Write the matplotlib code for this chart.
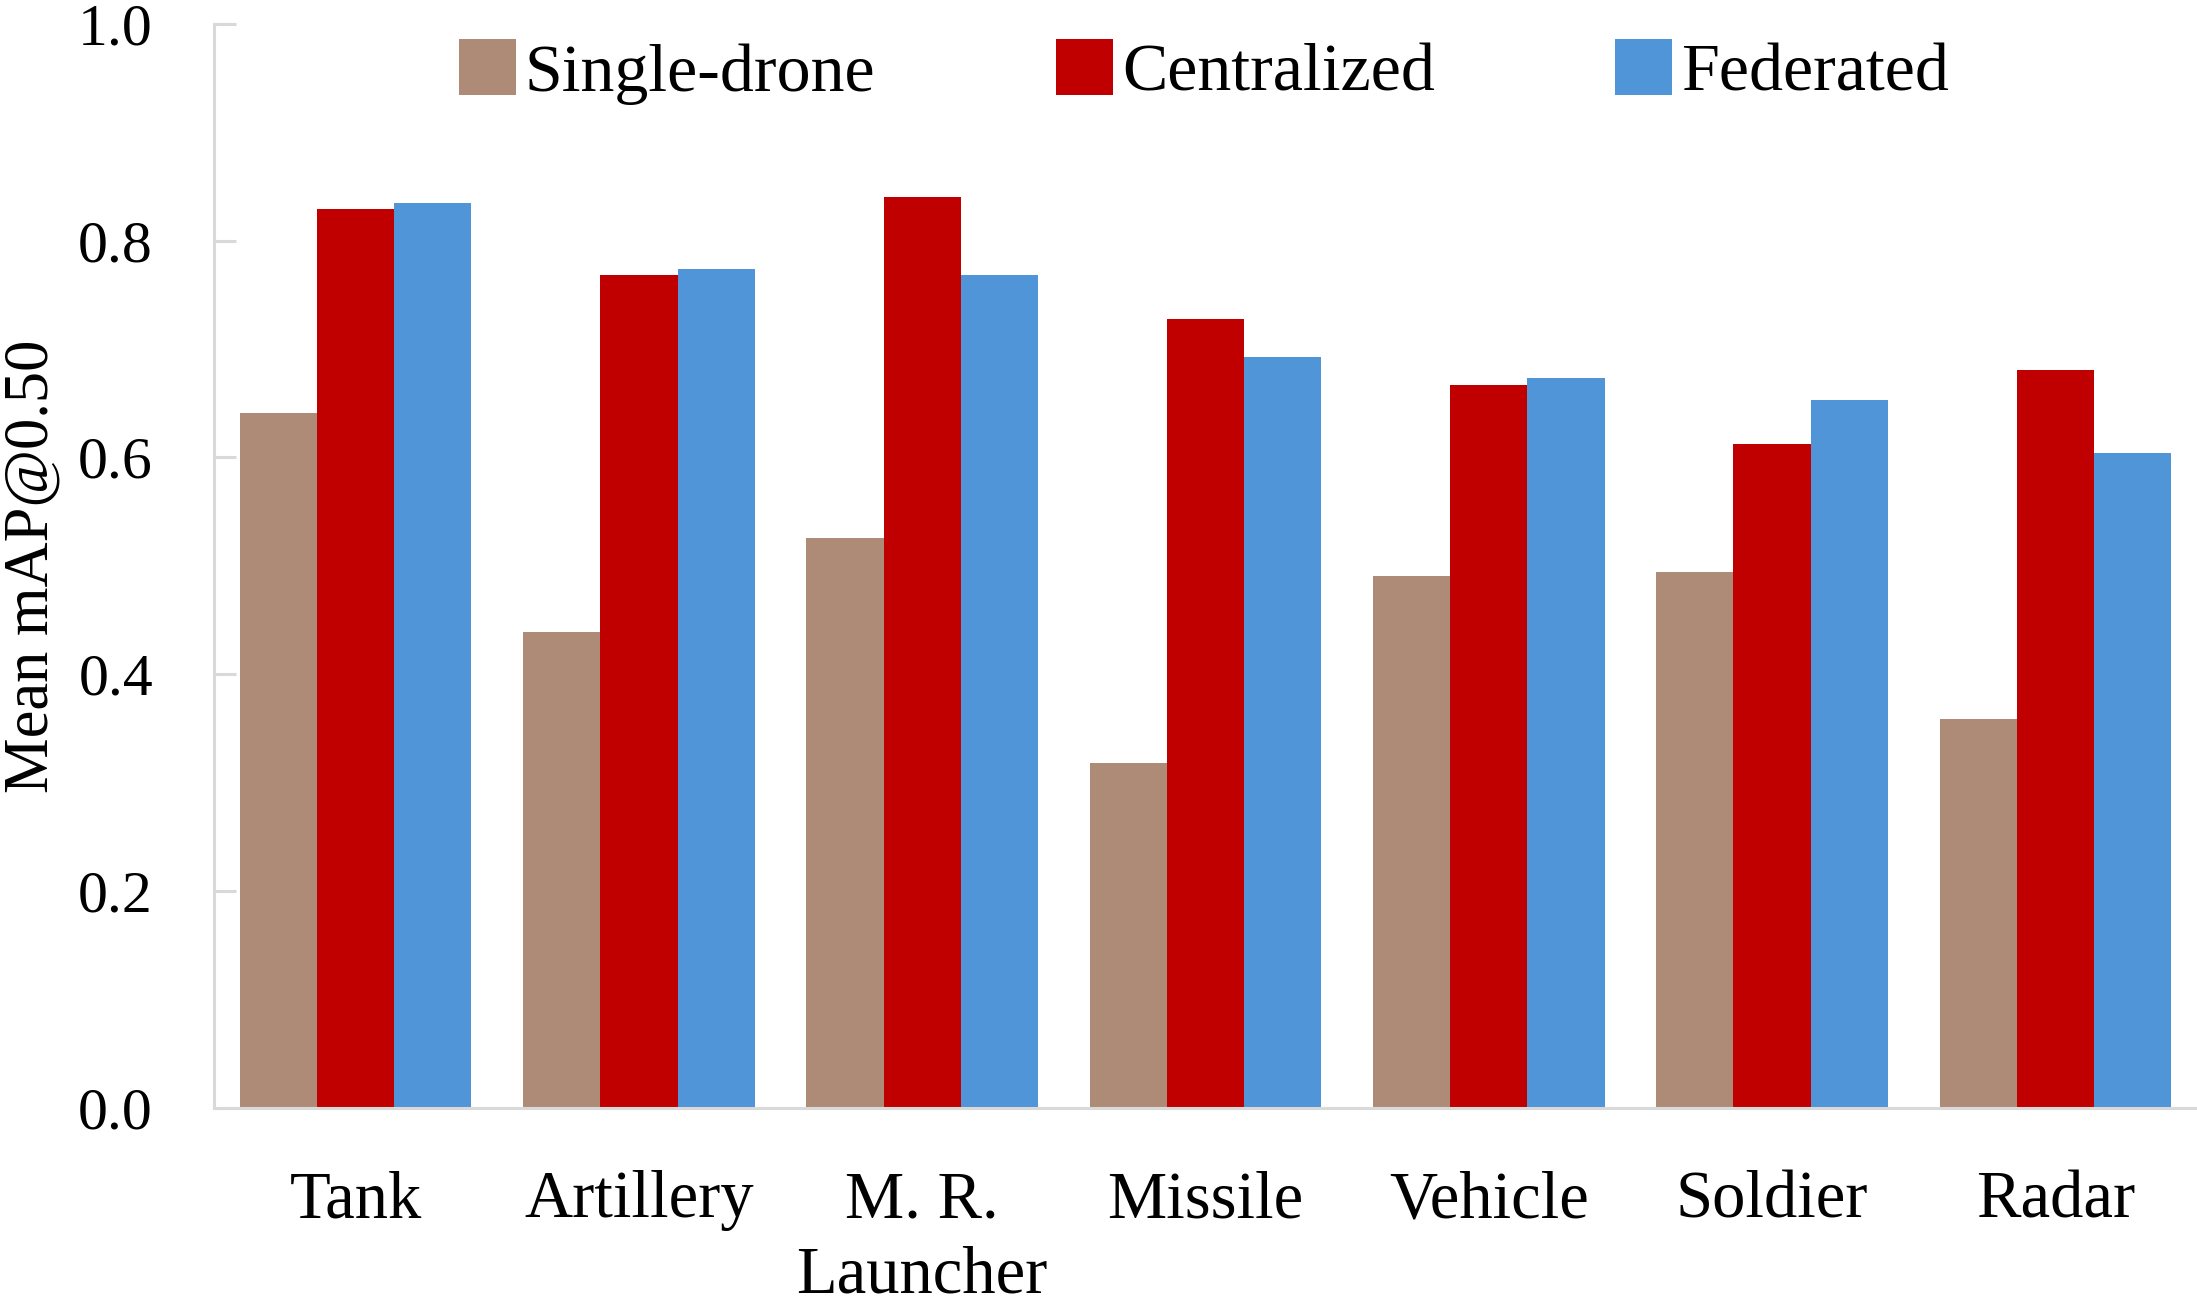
import matplotlib
matplotlib.use("Agg")
import matplotlib.pyplot as plt
import numpy as np
from matplotlib.ticker import FormatStrFormatter

categories = ["Tank", "Artillery", "M. R.\nLauncher", "Missile", "Vehicle", "Soldier", "Radar"]
series_names = ["Single-drone", "Centralized", "Federated"]
single_drone = [0.641, 0.439, 0.526, 0.318, 0.491, 0.494, 0.359]
centralized = [0.829, 0.768, 0.840, 0.728, 0.667, 0.612, 0.681]
federated = [0.835, 0.774, 0.768, 0.693, 0.673, 0.653, 0.604]
y_ticks = [0.0, 0.2, 0.4, 0.6, 0.8, 1.0]

colors = ["#AD8B77", "#C00000", "#4F95D8"]

plt.rcParams['font.family'] = ['Liberation Serif', 'DejaVu Serif']

fig = plt.figure(figsize=(21.97, 13.04), dpi=100)
ax = fig.add_axes([214 / 2197, 1 - 1107.7 / 1304, 1 - 214 / 2197, (1107.7 - 24) / 1304])

x = np.arange(len(categories))
w = 0.2724
for k, (vals, name) in enumerate(zip([single_drone, centralized, federated], series_names)):
    ax.bar(x + (k - 1) * w, vals, width=w, color=colors[k], label=name, edgecolor='none', zorder=2)

ax.set_xlim(-0.5, len(categories) - 0.5)
ax.set_ylim(0, 1.0)
ax.set_yticks(y_ticks)
ax.yaxis.set_major_formatter(FormatStrFormatter('%.1f'))
ax.set_xticks(x)
ax.set_xticklabels(categories, fontsize=48, linespacing=1.3)

for s in ['top', 'right']:
    ax.spines[s].set_visible(False)
for s in ['left', 'bottom']:
    ax.spines[s].set_color('#D9D9D9')
    ax.spines[s].set_linewidth(2.2)
    ax.spines[s].set_zorder(3)

ax.tick_params(axis='y', direction='in', length=15.5, width=2.2, color='#D9D9D9',
               labelsize=43, pad=44)
ax.tick_params(axis='x', length=0, pad=45)

ax.set_ylabel("Mean mAP@0.50", fontsize=45)
ax.yaxis.set_label_coords(-0.077, 0.5)

leg = fig.legend(loc='center', bbox_to_anchor=(1204 / 2197, 1 - 72 / 1304), ncol=3,
                 frameon=False, fontsize=49, handlelength=0.84, handleheight=0.88,
                 handletextpad=0.13, columnspacing=2.65, borderpad=0.2)

fig.savefig("out.png", dpi=100)
